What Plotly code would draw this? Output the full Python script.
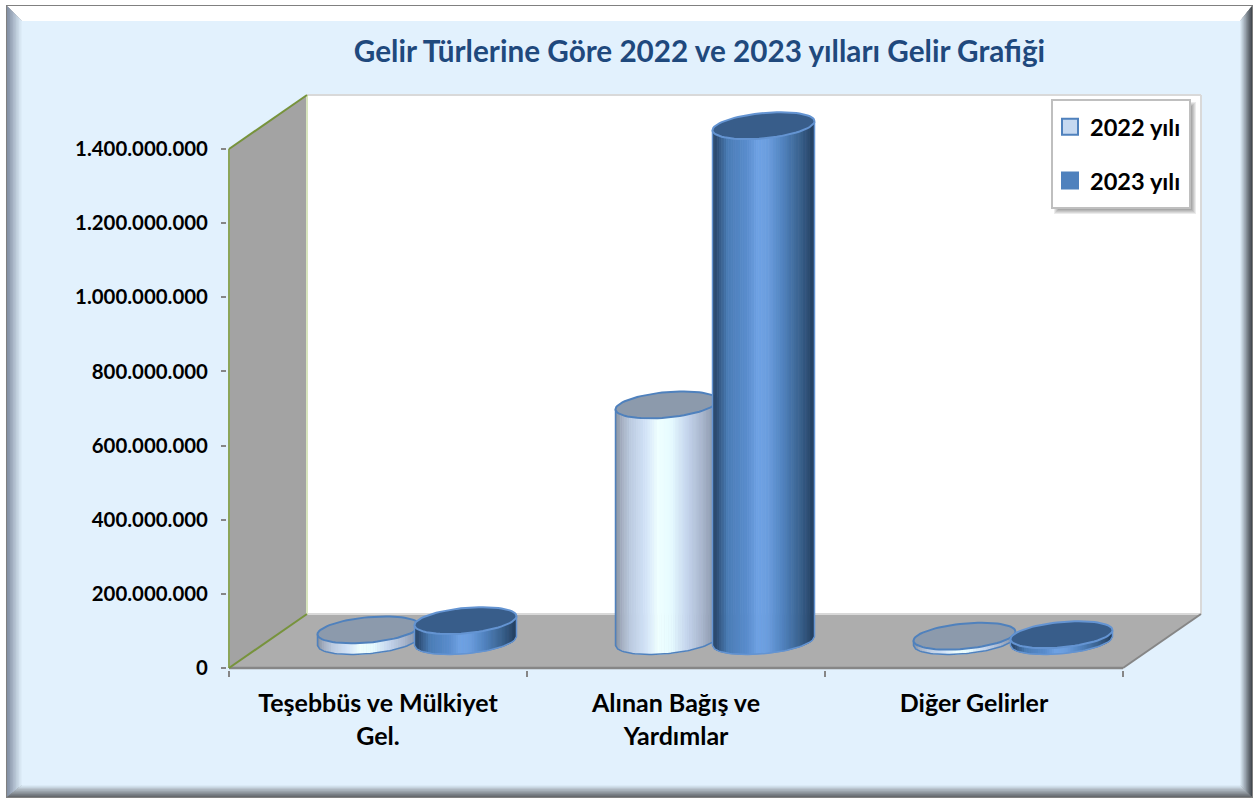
import math
import plotly.graph_objects as go

# ---------- data ----------
categories = ["Teşebbüs ve Mülkiyet<br>Gel.", "Alınan Bağış ve<br>Yardımlar", "Diğer Gelirler"]
series_names = ["2022 yılı", "2023 yılı"]
values_2022 = [30_000_000, 637_000_000, 13_000_000]
values_2023 = [55_000_000, 1_390_000_000, 17_000_000]
y_ticks = [0, 200_000_000, 400_000_000, 600_000_000, 800_000_000, 1_000_000_000, 1_200_000_000, 1_400_000_000]
title_text = "Gelir Türlerine Göre 2022 ve 2023 yılları Gelir Grafiği"

# ---------- styling ----------
W, H = 1254, 800
FONT = "Lato"
AXIS_LEFT, AXIS_RIGHT, AXIS_BOTTOM, AXIS_TOP = 229, 1123, 668, 149
UX = 3 / (AXIS_RIGHT - AXIS_LEFT)                 # category units per pixel
UY = max(y_ticks) / (AXIS_BOTTOM - AXIS_TOP)      # value per pixel
DEPTH_PX, DEPTH_PY = 78, 54
DX, DY = DEPTH_PX * UX, DEPTH_PY * UY
BAR_A, BAR_B, BAR_S, BAR_STEP = 51, 12.7, 4.5, 48.5   # ellipse half-axes/shear and series offset (px)

grad_2022 = [(0, "#7F8A99"), (.05, "#9FAABB"), (.15, "#BCCBE0"), (.3, "#D2E3F8"), (.42, "#EFFFFF"),
             (.55, "#E6FBFF"), (.7, "#C6D6EE"), (.85, "#A9B7CE"), (1, "#838FA2")]
grad_2023 = [(0, "#254061"), (.05, "#2F5079"), (.15, "#4A7CB5"), (.35, "#5B8ECF"), (.45, "#6FA2E4"),
             (.55, "#6A9DDE"), (.7, "#4F81BD"), (.85, "#3B6491"), (.95, "#2B4A70"), (1, "#1F3A5B")]
styles = [
    dict(grad=grad_2022, top="#8C9AAC", edge="#4F81BD", swatch="#C6D9F1"),
    dict(grad=grad_2023, top="#385D8A", edge="#6494D2", swatch="#4F81BD"),
]


def hex_rgb(c):
    return tuple(int(c[i:i + 2], 16) for i in (1, 3, 5))


def mix(c1, c2, t):
    a, b = hex_rgb(c1), hex_rgb(c2)
    return "#%02X%02X%02X" % tuple(round(a[i] + (b[i] - a[i]) * t) for i in range(3))


def grad_at(grad, f):
    for (f0, c0), (f1, c1) in zip(grad, grad[1:]):
        if f <= f1:
            return mix(c0, c1, (f - f0) / (f1 - f0))
    return grad[-1][1]


fig = go.Figure()

# hidden series markers, carry the data and the legend swatches
for s, (name, vals) in enumerate(zip(series_names, [values_2022, values_2023])):
    st = styles[s]
    fig.add_trace(go.Scatter(
        x=[i + 0.5 + DX / 2 + (2 * s - 1) * BAR_STEP * UX for i in range(len(vals))],
        y=[v + DY / 2 for v in vals],
        name=name, mode="markers", legendgroup=name, showlegend=True, hoverinfo="skip",
        marker=dict(symbol="square", size=16, color=st["swatch"], line=dict(color="#4F81BD", width=2)),
    ))


def cylinder(cat, s, value):
    st = styles[s]
    cx = cat + 0.5 + DX / 2 + (2 * s - 1) * BAR_STEP * UX
    base, top = DY / 2, DY / 2 + value
    n = 44
    us = [-1 + 2 * k / n for k in range(n + 1)]

    def front(u, level):
        return level - (BAR_B * math.sqrt(max(0, 1 - u * u)) - BAR_S * u) * UY

    for k in range(n):
        u1, u2 = us[k], us[k + 1]
        col = grad_at(st["grad"], (u1 + u2 + 2) / 4)
        xs = [cx + u * BAR_A * UX for u in (u1, u2, u2, u1, u1)]
        ys = [front(u1, top), front(u2, top), front(u2, base), front(u1, base), front(u1, top)]
        fig.add_trace(go.Scatter(x=xs, y=ys, mode="lines", fill="toself", fillcolor=col,
                                 line=dict(color=col, width=0.8), showlegend=False, hoverinfo="skip"))
    # outline: left edge, front bottom arc, right edge
    m = 48
    arc = [-1 + 2 * k / m for k in range(m + 1)]
    xs = [cx - BAR_A * UX] + [cx + u * BAR_A * UX for u in arc] + [cx + BAR_A * UX]
    ys = [front(-1, top)] + [front(u, base) for u in arc] + [front(1, top)]
    fig.add_trace(go.Scatter(x=xs, y=ys, mode="lines", line=dict(color=st["edge"], width=1.5),
                             showlegend=False, hoverinfo="skip"))
    # top ellipse
    ts = [2 * math.pi * k / 72 for k in range(73)]
    fig.add_trace(go.Scatter(
        x=[cx + BAR_A * math.cos(t) * UX for t in ts],
        y=[top + (BAR_B * math.sin(t) + BAR_S * math.cos(t)) * UY for t in ts],
        mode="lines", fill="toself", fillcolor=st["top"],
        line=dict(color=st["edge"] if s else "#4F81BD", width=2), showlegend=False, hoverinfo="skip"))


for i in range(len(categories)):
    cylinder(i, 0, values_2022[i])
    cylinder(i, 1, values_2023[i])

# ---------- frame ----------
shapes = []


def px_x(p):
    return p / W


def px_y(p):
    return 1 - p / H


def poly(pts, color, layer="below", opacity=1):
    path = "M " + " L ".join(f"{px_x(x):.5f},{px_y(y):.5f}" for x, y in pts) + " Z"
    shapes.append(dict(type="path", path=path, xref="paper", yref="paper", fillcolor=color,
                       line=dict(width=0), layer=layer, opacity=opacity))


BG = "#E2F1FD"
OL, OT, OR, OB = 7, 6, 1252, 797
IL, IT, IR, IB = 22, 21, 1240, 785
poly([(OL - 1, OT - 1), (OR + 1, OT - 1), (OR + 1, OB + 1), (OL - 1, OB + 1)], "#808080")
poly([(OL, OT), (OR, OT), (IR, IT), (IL, IT)], "#FFFFFF")
steps = 10
for k in range(steps):
    t0, t1 = k / steps, (k + 1) / steps
    f = (t0 + t1) / 2

    def lerp(a, b, t):
        return a + (b - a) * t

    l0, l1 = lerp(OL, IL, t0), lerp(OL, IL, t1 + .05)
    r0, r1 = lerp(OR, IR, t0), lerp(OR, IR, t1 + .05)
    a0, a1 = lerp(OT, IT, t0), lerp(OT, IT, t1 + .05)
    b0, b1 = lerp(OB, IB, t0), lerp(OB, IB, t1 + .05)
    poly([(l0, a0), (l1, a1), (l1, b1), (l0, b0)], mix("#7F8CA0", BG, f))
    poly([(r0, a0), (r1, a1), (r1, b1), (r0, b0)], mix("#3C4148", BG, f))
    poly([(l0, b0), (r0, b0), (r1, b1), (l1, b1)], mix("#5F6368", BG, f))
poly([(IL, IT), (IR, IT), (IR, IB), (IL, IB)], BG)

# ---------- 3D walls, all in axis units ----------
ymax = max(y_ticks)


def data_poly(pts, fill, line=None, width=0):
    path = "M " + " L ".join(f"{x},{y}" for x, y in pts) + " Z"
    shapes.append(dict(type="path", path=path, xref="x", yref="y", fillcolor=fill,
                       line=dict(width=width, color=line or fill), layer="below"))


def data_line(p, q, color, width):
    shapes.append(dict(type="line", x0=p[0], y0=p[1], x1=q[0], y1=q[1], xref="x", yref="y",
                       line=dict(color=color, width=width), layer="below"))


data_poly([(DX, DY), (3 + DX, DY), (3 + DX, ymax + DY), (DX, ymax + DY)], "#FFFFFF")
data_poly([(0, 0), (DX, DY), (DX, ymax + DY), (0, ymax)], "#A3A3A3")
data_poly([(0, 0), (3, 0), (3 + DX, DY), (DX, DY)], "#ADADAD")
data_line((DX, ymax + DY), (3 + DX, ymax + DY), "#D9D9D9", 2)
data_line((3 + DX, DY), (3 + DX, ymax + DY), "#D9D9D9", 2)
data_line((DX, DY), (3 + DX, DY), "#D9D9D9", 2)
data_line((DX, DY), (DX, ymax + DY), "#D7E4BD", 2)
data_line((0, 0), (3, 0), "#868686", 2.5)
data_line((3, 0), (3 + DX, DY), "#868686", 2)
data_line((0, 0), (0, ymax), "#8CA55A", 2)
data_line((0, ymax), (DX, ymax + DY), "#77933C", 2)
data_line((0, 0), (DX, DY), "#77933C", 2)

# legend box with shadow
LEG_L, LEG_T, LEG_R, LEG_B = 1052, 100, 1190, 208
for k in range(6):
    e = 6 - k
    poly([(LEG_L + 8 - e, LEG_T + 8 - e), (LEG_R + e, LEG_T + 8 - e),
          (LEG_R + e, LEG_B + e), (LEG_L + 8 - e, LEG_B + e)], "#000000", layer="above", opacity=0.08)
shapes.append(dict(type="rect", x0=px_x(LEG_L), x1=px_x(LEG_R), y0=px_y(LEG_B), y1=px_y(LEG_T),
                   xref="paper", yref="paper", fillcolor="#FFFFFF",
                   line=dict(color="#BFBFBF", width=2), layer="above"))

fig.update_layout(
    autosize=False,
    width=W, height=H, margin=dict(l=0, r=0, t=0, b=0, pad=0, autoexpand=False),
    paper_bgcolor="#FFFFFF", plot_bgcolor="rgba(0,0,0,0)",
    separators=",.",
    shapes=shapes,
    title=dict(text=title_text, x=699.5 / W, xanchor="center", y=px_y(52), yanchor="middle",
               font=dict(family=FONT, size=29.7, color="#1F497D", weight="bold")),
    legend=dict(x=1050 / W, xanchor="left", y=px_y(105), yanchor="top",
                bgcolor="rgba(0,0,0,0)", borderwidth=0,
                font=dict(family=FONT, size=23.6, color="#000000", weight="bold"),
                tracegroupgap=20, itemwidth=30, traceorder="grouped",
                itemclick=False, itemdoubleclick=False),
    xaxis=dict(domain=[(AXIS_LEFT - 2) / W, (AXIS_RIGHT + DEPTH_PX + 4) / W],
               range=[-2 * UX, 3 + (DEPTH_PX + 4) * UX], showgrid=False, zeroline=False, showline=False,
               tickmode="array", tickvals=[i + 0.5 for i in range(len(categories))],
               ticktext=[c for c in categories], ticks="", ticklabelstandoff=16,
               tickfont=dict(family=FONT, size=25, color="#000000", weight="bold"),
               minor=dict(ticks="outside", tick0=0, dtick=1, ticklen=6, tickwidth=1.5,
                          tickcolor="#868686", showgrid=False)),
    yaxis=dict(domain=[1 - (AXIS_BOTTOM + 2) / H, 1 - (AXIS_TOP - DEPTH_PY - 2) / H],
               range=[-2 * UY, ymax + (DEPTH_PY + 2) * UY], showgrid=False, zeroline=False, showline=False,
               tickmode="array", tickvals=y_ticks, tickformat=",d", ticks="outside", ticklen=5,
               tickwidth=1.5, tickcolor="#868686", ticklabelstandoff=9,
               tickfont=dict(family=FONT, size=20.4, color="#000000", weight="bold")),
)

fig.write_html("out.html", config={"displayModeBar": False, "responsive": False},
               post_script="document.body.style.margin='0';")
